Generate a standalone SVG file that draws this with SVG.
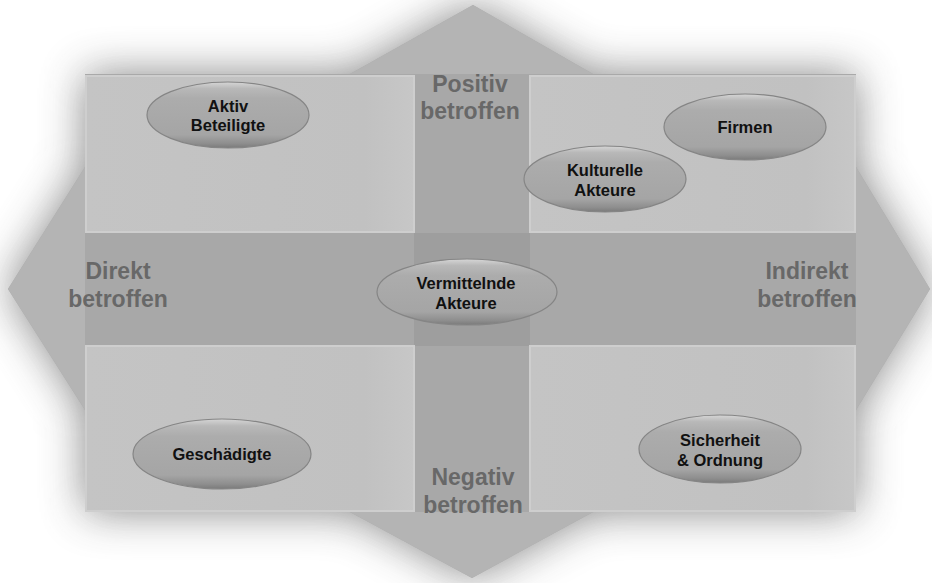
<svg xmlns="http://www.w3.org/2000/svg" width="932" height="583" viewBox="0 0 932 583">
<defs>
  <filter id="glow" x="-25%" y="-25%" width="150%" height="150%">
    <feGaussianBlur stdDeviation="22"/>
  </filter>
  <linearGradient id="eg" x1="0" y1="0" x2="0" y2="1">
    <stop offset="0" stop-color="#d6d6d6"/>
    <stop offset="0.1" stop-color="#b8b8b8"/>
    <stop offset="0.25" stop-color="#acacac"/>
    <stop offset="0.8" stop-color="#a5a5a5"/>
    <stop offset="0.93" stop-color="#8e8e8e"/>
    <stop offset="1" stop-color="#7a7a7a"/>
  </linearGradient>
  <linearGradient id="qg" x1="0" y1="0" x2="1" y2="0">
    <stop offset="0" stop-color="#c4c4c4"/>
    <stop offset="0.85" stop-color="#c1c1c1"/>
    <stop offset="1" stop-color="#c7c7c7"/>
  </linearGradient>
  <style>
    .node ellipse { fill: url(#eg); stroke: #858585; stroke-width: 1.2; }
    .node text { font-family: "Liberation Sans", Arial, sans-serif; font-weight: bold; font-size: 16.5px; fill: #111; text-anchor: middle; }
    .lbl { font-family: "Liberation Sans", Arial, sans-serif; font-weight: bold; font-size: 23px; fill: #686868; text-anchor: middle; }
    .quad { fill: url(#qg); stroke: #cecece; stroke-width: 2; }
    .head { fill: #b4b4b4; }
  </style>
</defs>
<rect width="932" height="583" fill="#ffffff"/>
<g id="backdrop">
  <path d="M473,5 L593,74 L856,74 L856,167 L930,289 L856,410 L856,512 L593,512 L472,578 L350,512 L85,512 L85,410 L8,289 L85,167 L85,74 L350,74 Z" fill="#7a7a7a" opacity="0.9" filter="url(#glow)"/>
  <path d="M473,5 L593,74 L856,74 L856,167 L930,289 L856,410 L856,512 L593,512 L472,578 L350,512 L85,512 L85,410 L8,289 L85,167 L85,74 L350,74 Z" fill="#a9a9a9"/>
  <polygon class="head" points="473,5 593,74 350,74"/>
  <polygon class="head" points="472,578 593,512 350,512"/>
  <polygon class="head" points="8,289 85,167 85,410"/>
  <polygon class="head" points="930,289 856,167 856,410"/>
  <rect x="414" y="74" width="116" height="438" fill="#a8a8a8"/>
  <rect x="85" y="233" width="771" height="113" fill="#a8a8a8"/>
  <rect x="414" y="233" width="116" height="113" fill="#9e9e9e"/>
  <rect class="quad" x="86" y="76" width="328" height="156"/>
  <rect class="quad" x="530" y="76" width="325" height="156"/>
  <rect class="quad" x="86" y="346" width="328" height="165"/>
  <rect class="quad" x="530" y="346" width="325" height="165"/>
</g>
<g id="labels">
  <text class="lbl" x="470" y="92">Positiv</text>
  <text class="lbl" x="470" y="119">betroffen</text>
  <text class="lbl" x="118" y="279">Direkt</text>
  <text class="lbl" x="118" y="307">betroffen</text>
  <text class="lbl" x="807" y="279">Indirekt</text>
  <text class="lbl" x="807" y="307">betroffen</text>
  <text class="lbl" x="473" y="485">Negativ</text>
  <text class="lbl" x="473" y="513">betroffen</text>
</g>
<g id="connectors"></g>
<g id="node-aktiv" class="node">
  <ellipse cx="228" cy="115" rx="81" ry="33"/>
  <text x="228" y="112">Aktiv</text>
  <text x="228" y="131">Beteiligte</text>
</g>
<g id="node-firmen" class="node">
  <ellipse cx="745" cy="127" rx="81" ry="33"/>
  <text x="745" y="133">Firmen</text>
</g>
<g id="node-kulturelle" class="node">
  <ellipse cx="605" cy="179" rx="81" ry="33"/>
  <text x="605" y="176">Kulturelle</text>
  <text x="605" y="196">Akteure</text>
</g>
<g id="node-vermittelnde" class="node">
  <ellipse cx="467" cy="292" rx="90" ry="33"/>
  <text x="466" y="289">Vermittelnde</text>
  <text x="466" y="309">Akteure</text>
</g>
<g id="node-geschaedigte" class="node">
  <ellipse cx="222" cy="454" rx="89" ry="35"/>
  <text x="222" y="460">Geschädigte</text>
</g>
<g id="node-sicherheit" class="node">
  <ellipse cx="720" cy="449" rx="81" ry="34"/>
  <text x="720" y="446">Sicherheit</text>
  <text x="720" y="466">&amp; Ordnung</text>
</g>
</svg>
